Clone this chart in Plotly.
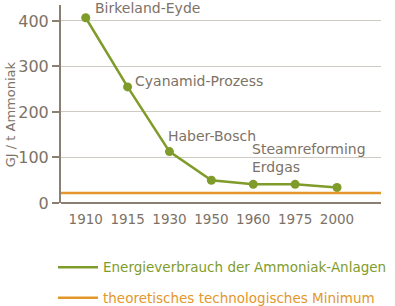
import plotly.graph_objects as go

years = ["1910", "1915", "1930", "1950", "1960", "1975", "2000"]
energy = [407, 255, 113, 50, 41, 41, 34]
minimum = 22
labels = ["Birkeland-Eyde", "Cyanamid-Prozess", "Haber-Bosch", "Steamreforming<br>Erdgas"]
label_pos = [(0.17, 428), (1.13, 268), (1.92, 147), (3.93, 99)]
series_names = ["Energieverbrauch der Ammoniak-Anlagen", "theoretisches technologisches Minimum"]

GREEN = "#7f9c2b"
ORANGE = "#e3972a"
TEXT = "#7d7266"
AXIS = "#8a7f72"
FONT = "DejaVu Sans"

idx = list(range(len(years)))
xr = [-0.59, 7.05]

fig = go.Figure()
fig.add_trace(go.Scatter(
    x=idx, y=energy, mode="lines+markers",
    line=dict(color=GREEN, width=2.5),
    marker=dict(color=GREEN, size=9),
    showlegend=False,
))
fig.add_trace(go.Scatter(
    x=[xr[0], 7.17], y=[minimum, minimum], mode="lines",
    line=dict(color=ORANGE, width=2.5),
    showlegend=False,
))
# legend entries (line only, coloured text)
for nm, col, grp in [(series_names[0], GREEN, "a"), (series_names[1], ORANGE, "b")]:
    fig.add_trace(go.Scatter(
        x=[None], y=[None], mode="lines", line=dict(color=col, width=2.5),
        name=f"<span style='color:{col}'>{nm}</span>", legendgroup=grp,
    ))

for t, (ax, ay) in zip(labels, label_pos):
    fig.add_annotation(x=ax, y=ay, text=t, showarrow=False, xanchor="left",
                       yanchor="middle", align="left",
                       font=dict(family=FONT, size=14, color=TEXT))

fig.add_annotation(xref="paper", yref="paper", x=-0.159, y=0.449,
                   text="GJ / t Ammoniak", textangle=-90, showarrow=False,
                   xanchor="center", yanchor="middle",
                   font=dict(family=FONT, size=13, color=TEXT))

fig.update_layout(
    width=395, height=306,
    margin=dict(l=61, r=14, t=5, b=103, autoexpand=False),
    paper_bgcolor="white", plot_bgcolor="white",
    font=dict(family=FONT, color=TEXT),
    showlegend=True,
    legend=dict(x=-0.025, y=-0.247, xanchor="left", yanchor="top",
                traceorder="grouped", tracegroupgap=10,
                font=dict(family=FONT, size=13.5, color=TEXT),
                itemwidth=40, bgcolor="rgba(0,0,0,0)"),
)

fig.update_xaxes(range=xr, tickvals=idx, ticktext=years, showgrid=False,
                 zeroline=False, showline=False, ticks="", ticklabelstandoff=6,
                 tickfont=dict(family=FONT, size=13.5, color=TEXT))
fig.update_yaxes(range=[0, 435], tickvals=[0, 100, 200, 300, 400],
                 showgrid=True, gridcolor="#cfcac4", gridwidth=1,
                 zeroline=True, zerolinecolor=AXIS, zerolinewidth=2,
                 showline=True, linecolor=AXIS, linewidth=2,
                 ticks="outside", ticklen=7, tickcolor=AXIS, tickwidth=1.5,
                 tickfont=dict(family=FONT, size=16, color=TEXT))

fig.write_html("out.html")
